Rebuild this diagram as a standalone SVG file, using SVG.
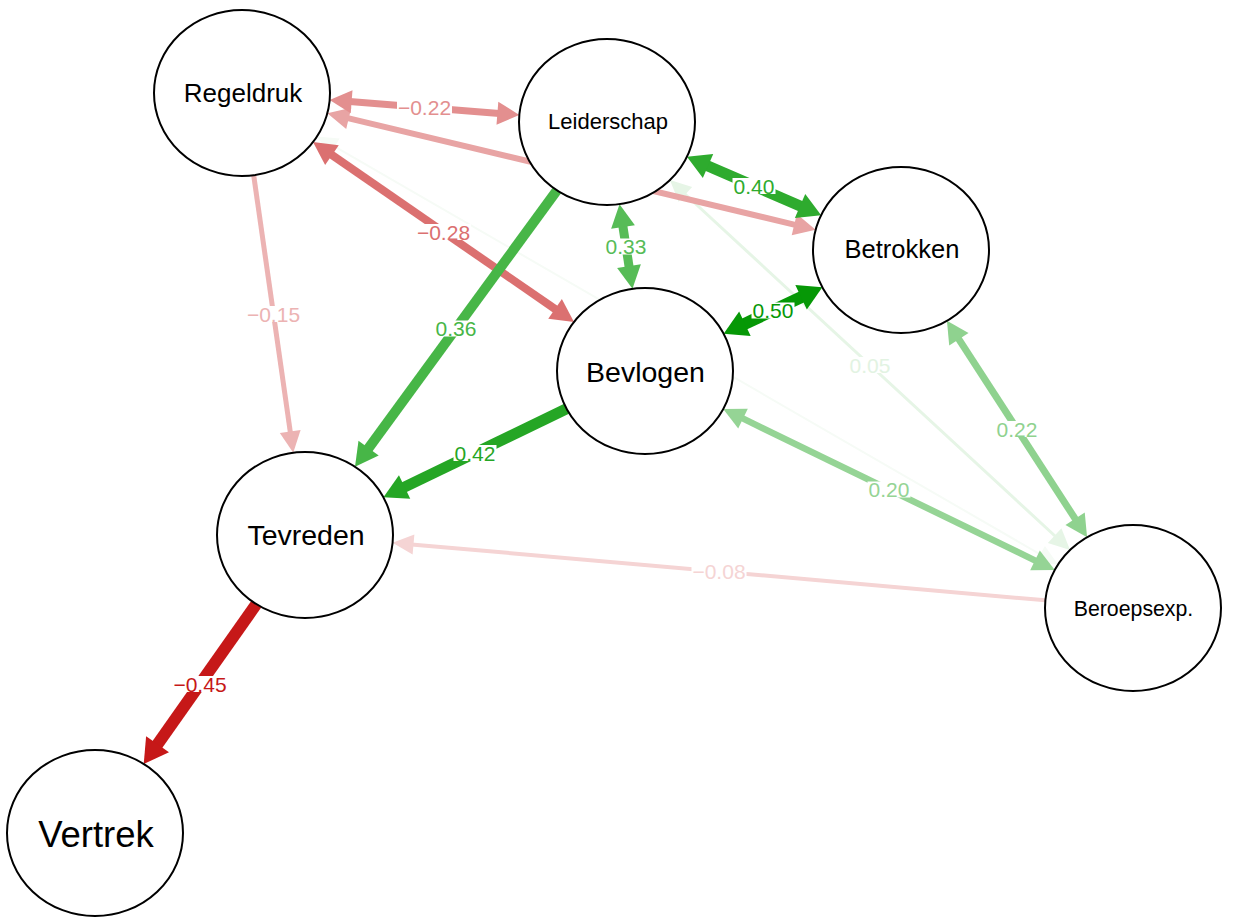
<svg xmlns="http://www.w3.org/2000/svg" width="1233" height="917" viewBox="0 0 1233 917">
<style>
.node ellipse{fill:#fff;stroke:#000;stroke-width:2}
.node text{font-family:"Liberation Sans",Arial,sans-serif;fill:#000;text-anchor:middle}
.edge{fill:none;stroke-linecap:butt}
.lbl rect{fill:#fff}
.lbl text{font-family:"Liberation Sans",Arial,sans-serif;font-size:21px;text-anchor:middle}
</style>
<defs>
<marker id="m1" markerUnits="userSpaceOnUse" orient="auto-start-reverse" refX="2" refY="0" markerWidth="24" markerHeight="24" overflow="visible"><path d="M0,-11.5L22,0L0,11.5z" fill="#E38F8F"/></marker>
<marker id="m2" markerUnits="userSpaceOnUse" orient="auto-start-reverse" refX="2" refY="0" markerWidth="24" markerHeight="24" overflow="visible"><path d="M0,-11L22,0L0,11z" fill="#E8A4A4"/></marker>
<marker id="m3" markerUnits="userSpaceOnUse" orient="auto-start-reverse" refX="2" refY="0" markerWidth="24" markerHeight="24" overflow="visible"><path d="M0,-12L23,0L0,12z" fill="#DB7070"/></marker>
<marker id="m4" markerUnits="userSpaceOnUse" orient="auto-start-reverse" refX="2" refY="0" markerWidth="24" markerHeight="24" overflow="visible"><path d="M0,-10.5L21.5,0L0,10.5z" fill="#ECB3B3"/></marker>
<marker id="m5" markerUnits="userSpaceOnUse" orient="auto-start-reverse" refX="2" refY="0" markerWidth="24" markerHeight="24" overflow="visible"><path d="M0,-9.5L20.6,0L0,9.5z" fill="#F6FBF6"/></marker>
<marker id="m6" markerUnits="userSpaceOnUse" orient="auto-start-reverse" refX="2" refY="0" markerWidth="24" markerHeight="24" overflow="visible"><path d="M0,-12.5L23,0L0,12.5z" fill="#47B647"/></marker>
<marker id="m7" markerUnits="userSpaceOnUse" orient="auto-start-reverse" refX="2" refY="0" markerWidth="24" markerHeight="24" overflow="visible"><path d="M0,-12L23,0L0,12z" fill="#57BC57"/></marker>
<marker id="m8" markerUnits="userSpaceOnUse" orient="auto-start-reverse" refX="2" refY="0" markerWidth="24" markerHeight="24" overflow="visible"><path d="M0,-13L23,0L0,13z" fill="#2EAB2E"/></marker>
<marker id="m9" markerUnits="userSpaceOnUse" orient="auto-start-reverse" refX="2" refY="0" markerWidth="24" markerHeight="24" overflow="visible"><path d="M0,-13.5L23.5,0L0,13.5z" fill="#069806"/></marker>
<marker id="m10" markerUnits="userSpaceOnUse" orient="auto-start-reverse" refX="2" refY="0" markerWidth="24" markerHeight="24" overflow="visible"><path d="M0,-13L23.5,0L0,13z" fill="#25A625"/></marker>
<marker id="m11" markerUnits="userSpaceOnUse" orient="auto-start-reverse" refX="2" refY="0" markerWidth="24" markerHeight="24" overflow="visible"><path d="M0,-11.5L22,0L0,11.5z" fill="#8FD28F"/></marker>
<marker id="m12" markerUnits="userSpaceOnUse" orient="auto-start-reverse" refX="2" refY="0" markerWidth="24" markerHeight="24" overflow="visible"><path d="M0,-11L22,0L0,11z" fill="#95D495"/></marker>
<marker id="m13" markerUnits="userSpaceOnUse" orient="auto-start-reverse" refX="2" refY="0" markerWidth="24" markerHeight="24" overflow="visible"><path d="M0,-10L21,0L0,10z" fill="#E6F5E6"/></marker>
<marker id="m14" markerUnits="userSpaceOnUse" orient="auto-start-reverse" refX="2" refY="0" markerWidth="24" markerHeight="24" overflow="visible"><path d="M0,-10L21,0L0,10z" fill="#F5D4D4"/></marker>
<marker id="m15" markerUnits="userSpaceOnUse" orient="auto-start-reverse" refX="2" refY="0" markerWidth="24" markerHeight="24" overflow="visible"><path d="M0,-14L24,0L0,14z" fill="#C61818"/></marker>
</defs>
<rect width="1233" height="917" fill="#fff"/>
<g id="connectors">
  <line class="edge" x1="333.1" y1="145.7" x2="1041.9" y2="555.3" stroke="#F6FBF6" stroke-width="2" marker-start="url(#m5)" marker-end="url(#m5)"/>
  <line class="edge" x1="1056.1" y1="537.0" x2="683.9" y2="193.0" stroke="#E6F5E6" stroke-width="3" marker-start="url(#m13)" marker-end="url(#m13)"/>
  <line class="edge" x1="1045.4" y1="600.3" x2="411.5" y2="544.4" stroke="#F5D4D4" stroke-width="4" marker-end="url(#m14)"/>
  <line class="edge" x1="253.7" y1="175.3" x2="290.5" y2="433.4" stroke="#ECB3B3" stroke-width="5" marker-end="url(#m4)"/>
  <line class="edge" x1="346.8" y1="117.9" x2="796.2" y2="225.1" stroke="#E8A4A4" stroke-width="6" marker-start="url(#m2)" marker-end="url(#m2)"/>
  <line class="edge" x1="1036.8" y1="561.3" x2="741.2" y2="417.7" stroke="#95D495" stroke-width="6.5" marker-start="url(#m12)" marker-end="url(#m12)"/>
  <line class="edge" x1="349.6" y1="101.6" x2="499.4" y2="113.4" stroke="#E38F8F" stroke-width="7" marker-start="url(#m1)" marker-end="url(#m1)"/>
  <line class="edge" x1="1076.2" y1="520.4" x2="957.8" y2="337.6" stroke="#8FD28F" stroke-width="7" marker-start="url(#m11)" marker-end="url(#m11)"/>
  <line class="edge" x1="330.3" y1="153.9" x2="556.7" y2="310.1" stroke="#DB7070" stroke-width="8" marker-start="url(#m3)" marker-end="url(#m3)"/>
  <line class="edge" x1="622.7" y1="225.0" x2="629.3" y2="268.1" stroke="#57BC57" stroke-width="9" marker-start="url(#m7)" marker-end="url(#m7)"/>
  <line class="edge" x1="557.0" y1="190.3" x2="367.4" y2="449.7" stroke="#47B647" stroke-width="10" marker-end="url(#m6)"/>
  <line class="edge" x1="706.2" y1="165.2" x2="801.9" y2="206.8" stroke="#2EAB2E" stroke-width="11" marker-start="url(#m8)" marker-end="url(#m8)"/>
  <line class="edge" x1="566.6" y1="408.8" x2="402.8" y2="487.9" stroke="#25A625" stroke-width="11" marker-end="url(#m10)"/>
  <line class="edge" x1="256.3" y1="604.1" x2="156.4" y2="745.9" stroke="#C61818" stroke-width="12" marker-end="url(#m15)"/>
  <line class="edge" x1="802.9" y1="296.4" x2="743.1" y2="324.6" stroke="#069806" stroke-width="12" marker-start="url(#m9)" marker-end="url(#m9)"/>
  <g class="lbl">
    <rect x="397" y="99.5" width="55" height="16"/><text x="424.5" y="115" fill="#E38F8F">−0.22</text>
    <rect x="416" y="224" width="55" height="16"/><text x="443.5" y="239.5" fill="#DB7070">−0.28</text>
    <rect x="246" y="306" width="55" height="16"/><text x="273.5" y="321.5" fill="#ECB3B3">−0.15</text>
    <rect x="434.5" y="320.5" width="43" height="16"/><text x="456" y="336" fill="#47B647">0.36</text>
    <rect x="604.5" y="238.5" width="43" height="16"/><text x="626" y="254" fill="#57BC57">0.33</text>
    <rect x="732.5" y="178" width="43" height="16"/><text x="754" y="193.5" fill="#2EAB2E">0.40</text>
    <rect x="751.5" y="302.5" width="43" height="16"/><text x="773" y="318" fill="#069806">0.50</text>
    <rect x="453.5" y="445" width="43" height="16"/><text x="475" y="460.5" fill="#25A625">0.42</text>
    <rect x="995.5" y="421" width="43" height="16"/><text x="1017" y="436.5" fill="#8FD28F">0.22</text>
    <rect x="867.5" y="481.5" width="43" height="16"/><text x="889" y="497" fill="#95D495">0.20</text>
    <rect x="848.5" y="357" width="43" height="16"/><text x="870" y="372.5" fill="#E2F3E2">0.05</text>
    <rect x="691.5" y="563.5" width="55" height="16"/><text x="719" y="579" fill="#F5D4D4">−0.08</text>
    <rect x="172.5" y="676" width="55" height="16"/><text x="200" y="691.5" fill="#C61818">−0.45</text>
  </g>
</g>
<g id="node-regeldruk" class="node"><ellipse cx="242" cy="93" rx="88" ry="83"/><text x="243" y="102" font-size="26">Regeldruk</text></g>
<g id="node-leiderschap" class="node"><ellipse cx="607" cy="122" rx="88" ry="83"/><text x="608" y="129" font-size="22">Leiderschap</text></g>
<g id="node-betrokken" class="node"><ellipse cx="901" cy="250" rx="88" ry="83"/><text x="902" y="258" font-size="25.5">Betrokken</text></g>
<g id="node-bevlogen" class="node"><ellipse cx="645" cy="371" rx="88" ry="83"/><text x="645.5" y="381.5" font-size="28.5">Bevlogen</text></g>
<g id="node-tevreden" class="node"><ellipse cx="305" cy="535" rx="88" ry="83"/><text x="306" y="545" font-size="28.5">Tevreden</text></g>
<g id="node-vertrek" class="node"><ellipse cx="95" cy="833" rx="88" ry="83"/><text x="96" y="846.5" font-size="36.5">Vertrek</text></g>
<g id="node-beroepsexp" class="node"><ellipse cx="1133" cy="608" rx="88" ry="83"/><text x="1133.5" y="616" font-size="21.3">Beroepsexp.</text></g>
</svg>
